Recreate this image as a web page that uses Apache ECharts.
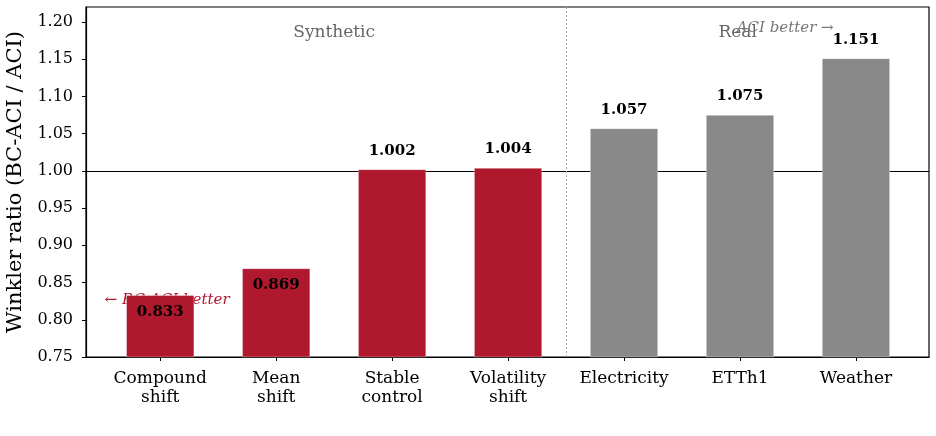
<!DOCTYPE html>
<html>
<head>
<meta charset="utf-8">
<script src="https://cdn.jsdelivr.net/npm/echarts@6/dist/echarts.min.js"></script>
<style>
  html, body { margin: 0; padding: 0; background: #fff; }
  #chart { width: 936px; height: 436px; }
</style>
</head>
<body>
<div id="chart"></div>
<script>
// data
const categories = ['Compound\nshift', 'Mean\nshift', 'Stable\ncontrol', 'Volatility\nshift', 'Electricity', 'ETTh1', 'Weather'];
const groups = ['Synthetic', 'Synthetic', 'Synthetic', 'Synthetic', 'Real', 'Real', 'Real'];
const ratios = [0.833, 0.869, 1.002, 1.004, 1.057, 1.075, 1.151];
const yTicks = [0.75, 0.80, 0.85, 0.90, 0.95, 1.00, 1.05, 1.10, 1.15, 1.20];

const RED = '#b0182d';
const GRAY = '#898989';
const FONT = '"DejaVu Serif", serif';

const chart = echarts.init(document.getElementById('chart'));

const barData = ratios.map((v, i) => ({
    value: [i, v],
    itemStyle: { color: groups[i] === 'Synthetic' ? RED : GRAY },
    label: v < 1
        ? { position: 'insideTop', distance: 9 }   // bars below parity: label inside
        : { position: 'top', distance: 11 }
}));

const option = {
    animation: false,
    grid: {
        left: 86, right: 7, top: 7, bottom: 79,
        outerBoundsMode: 'none',
        containLabel: false,
        show: true, borderColor: '#000', borderWidth: 1.2, backgroundColor: 'transparent'
    },
    xAxis: {
        type: 'value',
        min: -0.64,
        max: 6.63,
        splitLine: { show: false },
        axisLine: { show: true, onZero: false, lineStyle: { color: '#000', width: 1.2 } },
        axisTick: {
            show: true, length: 4, customValues: categories.map((c, i) => i),
            lineStyle: { color: '#000', width: 1 }
        },
        axisLabel: {
            customValues: categories.map((c, i) => i),
            formatter: v => categories[Math.round(v)] || '',
            color: '#000', fontFamily: FONT, fontSize: 17, lineHeight: 19, margin: 12
        }
    },
    yAxis: {
        type: 'value',
        min: yTicks[0],
        max: 1.22,
        interval: 0.05,
        name: 'Winkler ratio (BC-ACI / ACI)',
        nameLocation: 'middle',
        nameGap: 58,
        nameTextStyle: { color: '#000', fontFamily: FONT, fontSize: 21 },
        splitLine: { show: false },
        axisLine: { show: true, onZero: false, lineStyle: { color: '#000', width: 1.2 } },
        axisTick: { show: true, length: 4, lineStyle: { color: '#000' } },
        axisLabel: {
            showMaxLabel: false,
            formatter: v => v.toFixed(2),
            color: '#000', fontFamily: FONT, fontSize: 16, margin: 13
        }
    },
    series: [{
        type: 'bar',
        z: 3,
        barWidth: 68,
        data: barData,
        itemStyle: { borderColor: 'rgba(255,255,255,0.6)', borderWidth: 0.6 },
        label: {
            show: true,
            formatter: p => p.value[1].toFixed(3),
            color: '#000', fontFamily: FONT, fontSize: 15, fontWeight: 'bold'
        },
        // reference lines and annotations sit behind the bars
        markLine: {
            silent: true,
            z: 1,
            symbol: 'none',
            label: { show: false },
            data: [
                { yAxis: 1.0, lineStyle: { color: '#000', width: 1.2, type: 'solid' } },
                { xAxis: 3.5, lineStyle: { color: '#aaa', width: 1, type: [2, 2] } }
            ]
        },
        markPoint: {
            silent: true,
            z: 1,
            symbol: 'circle',
            symbolSize: 0,
            data: [
                { coord: [1.5, 1.186], label: { formatter: 'Synthetic', color: '#666', fontSize: 17 } },
                { coord: [4.98, 1.186], label: { formatter: 'Real', color: '#666', fontSize: 17 } },
                { coord: [5.39, 1.191], label: { formatter: 'ACI better →', color: '#777', fontSize: 15, fontStyle: 'italic' } },
                { coord: [0.06, 0.827], label: { formatter: '← BC-ACI better', color: RED, fontSize: 15, fontStyle: 'italic' } }
            ],
            label: { show: true, position: 'inside', fontFamily: FONT }
        }
    }]
};

chart.setOption(option);
</script>
</body>
</html>
